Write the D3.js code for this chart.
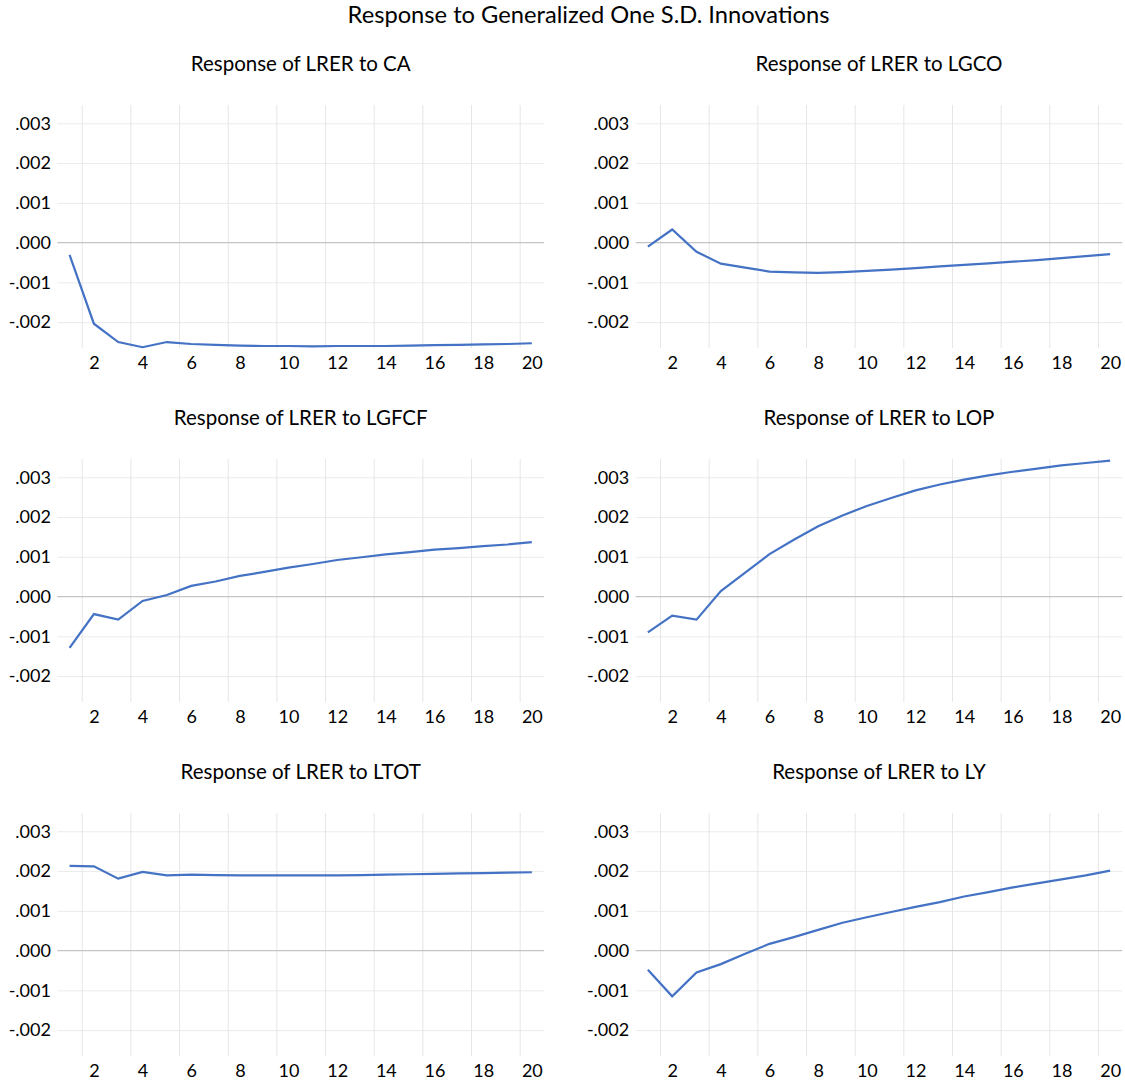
<!DOCTYPE html>
<html>
<head>
<meta charset="utf-8">
<script src="https://cdn.jsdelivr.net/npm/d3@7"></script>
<style>
    body { margin: 0; background: #fff; }
    text { font-family: Lato, "Open Sans", sans-serif; fill: #000; }
</style>
</head>
<body>
<div id="chart"></div>
<script>
// Periods and impulse responses
const periods = [1, 2, 3, 4, 5, 6, 7, 8, 9, 10, 11, 12, 13, 14, 15, 16, 17, 18, 19, 20];

const caValues = [-0.00031, -0.00204, -0.00250, -0.00263, -0.00250, -0.00255, -0.00257, -0.00259, -0.00260, -0.00260,
    -0.00261, -0.00260, -0.00260, -0.00260, -0.00259, -0.00258, -0.00257, -0.00256, -0.00255, -0.00253];
const lgcoValues = [-0.00010, 0.00033, -0.00023, -0.00053, -0.00063, -0.00073, -0.00075, -0.00076, -0.00074, -0.00071,
    -0.00068, -0.00064, -0.00060, -0.00056, -0.00052, -0.00048, -0.00044, -0.00039, -0.00034, -0.00029];
const lgfcfValues = [-0.00129, -0.00044, -0.00058, -0.00011, 0.00004, 0.00027, 0.00038, 0.00052, 0.00062, 0.00073,
    0.00082, 0.00092, 0.00099, 0.00106, 0.00112, 0.00118, 0.00122, 0.00127, 0.00131, 0.00137];
const lopValues = [-0.00090, -0.00048, -0.00058, 0.00014, 0.00060, 0.00107, 0.00143, 0.00177, 0.00204, 0.00228,
    0.00248, 0.00267, 0.00282, 0.00294, 0.00305, 0.00314, 0.00322, 0.00330, 0.00336, 0.00342];
const ltotValues = [0.00213, 0.00212, 0.00181, 0.00198, 0.00189, 0.00191, 0.00190, 0.00189, 0.00189, 0.00189,
    0.00189, 0.00189, 0.00190, 0.00191, 0.00192, 0.00193, 0.00194, 0.00195, 0.00196, 0.00197];
const lyValues = [-0.00048, -0.00115, -0.00055, -0.00034, -0.00008, 0.00017, 0.00034, 0.00052, 0.00070, 0.00084,
    0.00097, 0.00110, 0.00122, 0.00136, 0.00147, 0.00159, 0.00169, 0.00179, 0.00189, 0.00201];

const panelTitles = ["Response of LRER to CA", "Response of LRER to LGCO", "Response of LRER to LGFCF",
    "Response of LRER to LOP", "Response of LRER to LTOT", "Response of LRER to LY"];
const panelValues = [caValues, lgcoValues, lgfcfValues, lopValues, ltotValues, lyValues];

const yTicks = [-0.002, -0.001, 0, 0.001, 0.002, 0.003];
const xTicks = [2, 4, 6, 8, 10, 12, 14, 16, 18, 20];
const xGrid = [1.5, 3.5, 5.5, 7.5, 9.5, 11.5, 13.5, 15.5, 17.5, 19.5];
const mainTitle = "Response to Generalized One S.D. Innovations";

class IrfPanel {
    constructor(svg, title, values, left, top) {
        this.svg = svg;
        this.title = title;
        this.values = values;
        this.left = left;
        this.top = top;

        this.initVis();
    }

    initVis() {
        let vis = this;

        vis.width = 486.6;
        vis.height = 243;

        vis.g = vis.svg.append("g")
            .attr("transform", `translate(${vis.left},${vis.top})`);

        vis.x = d3.scaleLinear().domain([0.5, 20.5]).range([0, vis.width]);
        vis.y = d3.scaleLinear().domain([-0.00265, 0.00346]).range([vis.height, 0]);

        vis.updateVis();
    }

    updateVis() {
        let vis = this;

        //Horizontal gridlines
        vis.g.append("g")
            .attr("class", "y-grid")
            .call(d3.axisLeft(vis.y).tickValues(yTicks.filter(d => d !== 0)).tickSize(-vis.width).tickFormat(""))
            .call(g => g.select(".domain").remove())
            .selectAll("line").style("stroke", "#ebebeb").style("stroke-width", 1);

        //Vertical gridlines, between the labelled periods
        vis.g.append("g")
            .attr("class", "x-grid")
            .attr("transform", `translate(0,${vis.height})`)
            .call(d3.axisBottom(vis.x).tickValues(xGrid).tickSize(-vis.height).tickFormat(""))
            .call(g => g.select(".domain").remove())
            .selectAll("line").style("stroke", "#e6e6e6").style("stroke-width", 1);

        //Zero line
        vis.g.append("line")
            .attr("x1", 0).attr("x2", vis.width)
            .attr("y1", vis.y(0)).attr("y2", vis.y(0))
            .style("stroke", "#c4c4c4")
            .style("stroke-width", 1.3);

        //Y axis labels like ".003" and "-.002" (plain hyphen, no leading zero)
        let fmt = d => d3.format(".3f")(d).replace("\u2212", "-").replace("0.", ".");
        vis.g.append("g")
            .call(d3.axisLeft(vis.y).tickValues(yTicks).tickSize(0).tickPadding(6.5).tickFormat(fmt))
            .call(g => g.select(".domain").remove())
            .selectAll("text")
            .style("font-size", "18px");

        //X axis labels
        vis.g.append("g")
            .attr("transform", `translate(0,${vis.height})`)
            .call(d3.axisBottom(vis.x).tickValues(xTicks).tickSize(0).tickPadding(8))
            .call(g => g.select(".domain").remove())
            .selectAll("text")
            .style("font-size", "18px");

        //Response line
        let line = d3.line()
            .x((d, i) => vis.x(periods[i]))
            .y(d => vis.y(d));

        vis.g.append("path")
            .datum(vis.values)
            .attr("d", line)
            .style("fill", "none")
            .style("stroke", "#4472c4")
            .style("stroke-width", 2.2);

        //Panel title
        vis.g.append("text")
            .attr("x", vis.width / 2)
            .attr("y", -34)
            .attr("text-anchor", "middle")
            .style("font-size", "20.5px")
            .text(vis.title);
    }
}

const svg = d3.select("#chart").append("svg")
    .attr("width", 1125)
    .attr("height", 1085);

svg.append("text")
    .attr("x", 588.5)
    .attr("y", 23)
    .attr("text-anchor", "middle")
    .style("font-size", "23.7px")
    .text(mainTitle);

const lefts = [57.4, 635.7];
const tops = [105, 459, 813];

panelTitles.forEach((title, i) => {
    new IrfPanel(svg, title, panelValues[i], lefts[i % 2], tops[Math.floor(i / 2)]);
});
</script>
</body>
</html>
